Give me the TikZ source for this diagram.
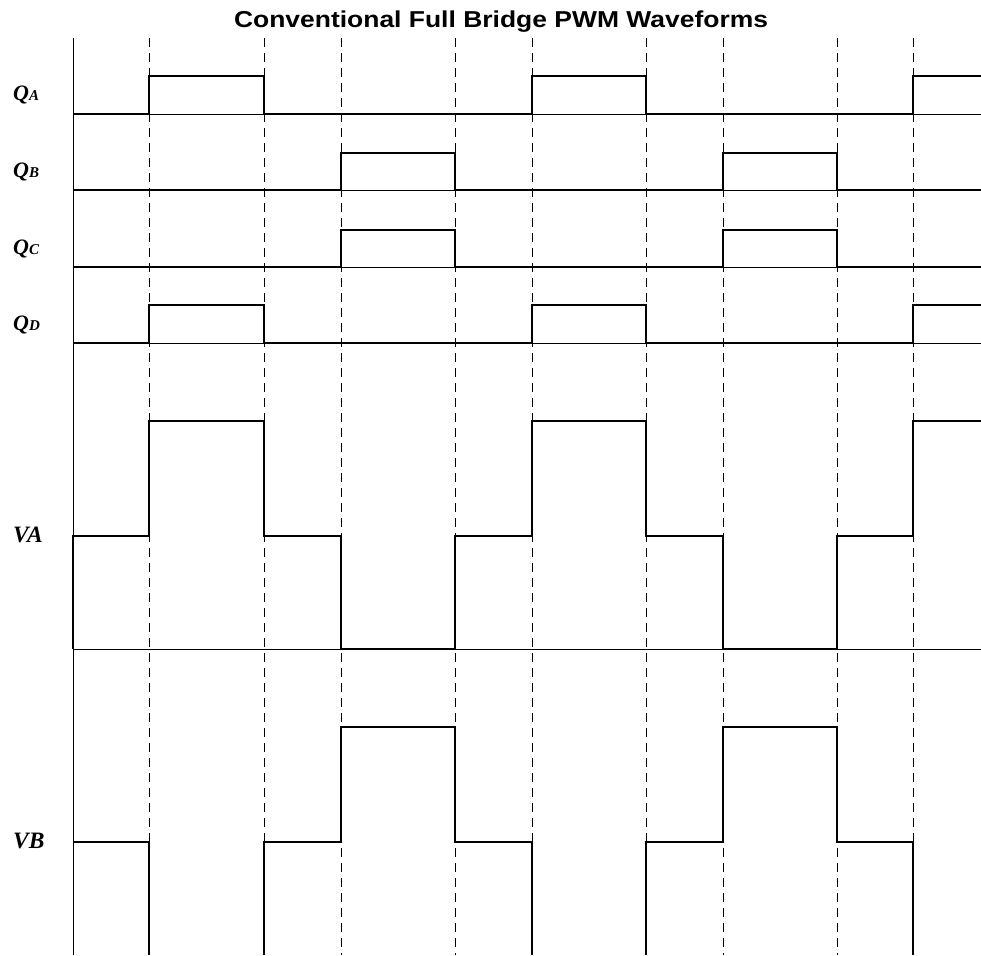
\documentclass[tikz,border=0pt]{standalone}
\usepackage{fontspec}
\setmainfont{Liberation Serif}
\newfontfamily\titlefont{Liberation Sans}
\usepackage{tikz}
\usetikzlibrary{positioning}

\tikzset{
  wave/.style={line width=2pt, line join=miter},
  grid line/.style={line width=0.9pt},
  edge mark/.style={line width=0.9pt, dash pattern=on 9pt off 6pt},
  sig label/.style={font=\bfseries\itshape, inner sep=0pt, anchor=base west}
}
\newcommand{\siglbl}[2]{\fontsize{22}{22}\selectfont #1{\fontsize{15}{15}\selectfont #2}}

\begin{document}
\begin{tikzpicture}[x=1pt, y=-1pt]
\useasboundingbox (0,0) rectangle (981,955);

\node (title) at (501, 28) [anchor=base, inner sep=0pt, xscale=1.15, font=\titlefont\bfseries\fontsize{23}{23}\selectfont] {Conventional Full Bridge PWM Waveforms};

% switching instants
\draw[edge mark] (149, 38) -- (149, 955);
\draw[edge mark] (264, 38) -- (264, 955);
\draw[edge mark] (341, 38) -- (341, 955);
\draw[edge mark] (455, 38) -- (455, 955);
\draw[edge mark] (532, 38) -- (532, 955);
\draw[edge mark] (646, 38) -- (646, 955);
\draw[edge mark] (723, 38) -- (723, 955);
\draw[edge mark] (837, 38) -- (837, 955);
\draw[edge mark] (913, 38) -- (913, 955);

% axis and baselines
\draw[grid line] (73, 38) -- (73, 955);
\draw[grid line] (73, 114) -- (981, 114);
\draw[grid line] (73, 190) -- (981, 190);
\draw[grid line] (73, 267) -- (981, 267);
\draw[grid line] (73, 343) -- (981, 343);
\draw[grid line] (73, 649) -- (981, 649);

\node (QA) at (13, 101) [sig label] {\siglbl{Q}{A}};
\node (QB) at (13, 177) [sig label] {\siglbl{Q}{B}};
\node (QC) at (13, 254) [sig label] {\siglbl{Q}{C}};
\node (QD) at (13, 330) [sig label] {\siglbl{Q}{D}};
\node (VA) at (13, 542) [sig label, font=\bfseries\itshape\fontsize{23.5}{23.5}\selectfont] {VA};
\node (VB) at (13, 848) [sig label, font=\bfseries\itshape\fontsize{23.5}{23.5}\selectfont] {VB};

% gate signals
\draw[wave] (73,114) -- (149,114) -- (149,76) -- (264,76) -- (264,114) -- (532,114) -- (532,76) -- (646,76) -- (646,114) -- (913,114) -- (913,76) -- (981,76);
\draw[wave] (73,190) -- (341,190) -- (341,153) -- (455,153) -- (455,190) -- (723,190) -- (723,153) -- (837,153) -- (837,190) -- (981,190);
\draw[wave] (73,267) -- (341,267) -- (341,230) -- (455,230) -- (455,267) -- (723,267) -- (723,230) -- (837,230) -- (837,267) -- (981,267);
\draw[wave] (73,343) -- (149,343) -- (149,305) -- (264,305) -- (264,343) -- (532,343) -- (532,305) -- (646,305) -- (646,343) -- (913,343) -- (913,305) -- (981,305);

% bridge leg voltages
\draw[wave] (73,649) -- (73,536) -- (149,536) -- (149,421) -- (264,421) -- (264,536) -- (341,536) -- (341,649) -- (455,649) -- (455,536) -- (532,536) -- (532,421) -- (646,421) -- (646,536) -- (723,536) -- (723,649) -- (837,649) -- (837,536) -- (913,536) -- (913,421) -- (981,421);
\draw[wave] (73,842) -- (149,842) -- (149,955);
\draw[wave] (264,955) -- (264,842) -- (341,842) -- (341,727) -- (455,727) -- (455,842) -- (532,842) -- (532,955);
\draw[wave] (646,955) -- (646,842) -- (723,842) -- (723,727) -- (837,727) -- (837,842) -- (913,842) -- (913,955);
\end{tikzpicture}
\end{document}
